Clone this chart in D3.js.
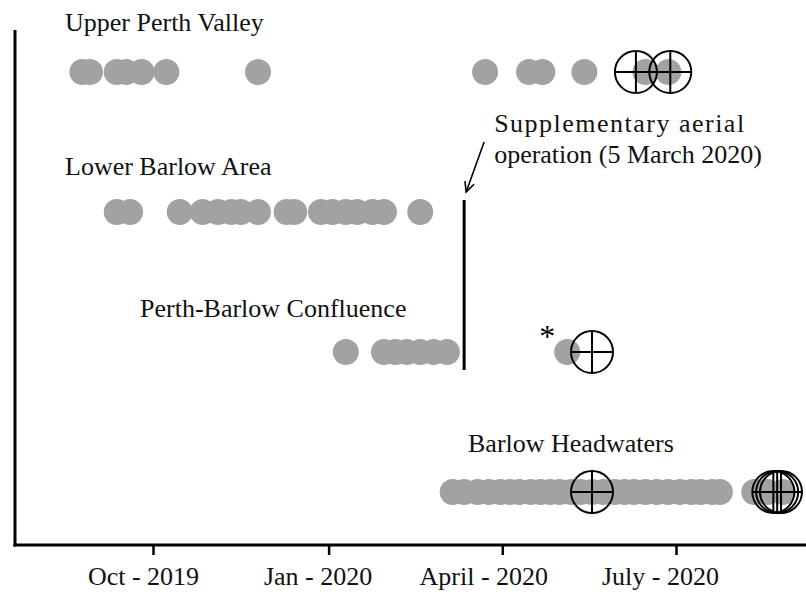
<!DOCTYPE html>
<html><head><meta charset="utf-8">
<script src="https://cdn.jsdelivr.net/npm/d3@7"></script>
<style>html,body{margin:0;padding:0;background:#fff;}svg{display:block;}</style>
</head><body>
<svg id="chart" width="806" height="594"></svg>
<script>
// ---- data ----
const sites = ["Upper Perth Valley", "Lower Barlow Area", "Perth-Barlow Confluence", "Barlow Headwaters"];
const upperPerthDates = ["2019-08-25","2019-08-29","2019-09-12","2019-09-17","2019-09-25","2019-10-08","2019-11-25",
  "2020-03-23","2020-04-15","2020-04-22","2020-05-14","2020-06-15","2020-06-27"];
const upperPerthCross = ["2020-06-10","2020-06-28"];
const lowerBarlowDates = ["2019-09-12","2019-09-19","2019-10-15","2019-10-27","2019-11-04","2019-11-11","2019-11-16","2019-11-25",
  "2019-12-10","2019-12-14","2019-12-28","2020-01-03","2020-01-10","2020-01-16","2020-01-24","2020-01-30","2020-02-18"];
const lowerBarlowCross = [];
const confluenceDates = ["2020-01-10","2020-01-30","2020-02-05","2020-02-11","2020-02-18","2020-02-25","2020-03-03","2020-05-05"];
const confluenceCross = ["2020-05-18"];
const headwatersDates = ["2020-03-06","2020-03-12","2020-03-19","2020-03-25","2020-03-31","2020-04-05","2020-04-10","2020-04-16",
  "2020-04-21","2020-04-26","2020-05-01","2020-05-07","2020-05-12","2020-05-18","2020-05-24","2020-05-30","2020-06-04",
  "2020-06-09","2020-06-15","2020-06-21","2020-06-27","2020-07-03","2020-07-09","2020-07-14","2020-07-20","2020-07-24",
  "2020-08-11","2020-08-18","2020-08-26"];
const headwatersCross = ["2020-05-18","2020-08-21","2020-08-23","2020-08-25"];
const tickDates = ["2019-10-01","2020-01-01","2020-04-01","2020-07-01"];
const tickLabels = ["Oct - 2019","Jan - 2020","April - 2020","July - 2020"];
const operationDate = "2020-03-12";
const operationLabel = ["Supplementary aerial","operation (5 March 2020)"];
const asteriskDate = "2020-05-05";

// ---- build ----
const parse = d3.utcParse("%Y-%m-%d");
const dotSets = [upperPerthDates, lowerBarlowDates, confluenceDates, headwatersDates];
const crossSets = [upperPerthCross, lowerBarlowCross, confluenceCross, headwatersCross];
const labelPos = [{x:65,dy:-41},{x:65,dy:-37},{x:140,dy:-35},{x:468,dy:-40}];
const tickShift = [-10, -11, -19, -16];

const svg = d3.select("#chart");
const font = "'Liberation Serif','Times New Roman',serif";
const FS = 26;
const x = d3.scaleUtc().domain([parse("2019-10-01"), parse("2020-07-01")]).range([153, 676]);
const y = d3.scalePoint().domain(sites).range([72, 492]);
const R = 13, RC = 21;

// dots
sites.forEach((s, i) => {
  svg.append("g").selectAll("circle").data(dotSets[i]).join("circle")
    .attr("cx", d => x(parse(d))).attr("cy", y(s)).attr("r", R)
    .attr("fill", "#a2a2a2");
});
// crosshairs
sites.forEach((s, i) => {
  const g = svg.append("g").selectAll("g").data(crossSets[i]).join("g")
    .attr("transform", d => `translate(${x(parse(d))},${y(s)})`);
  g.append("circle").attr("r", RC).attr("fill", "none").attr("stroke", "#000").attr("stroke-width", 2);
  g.append("line").attr("x1", -RC).attr("x2", RC).attr("stroke", "#000").attr("stroke-width", 2);
  g.append("line").attr("y1", -RC).attr("y2", RC).attr("stroke", "#000").attr("stroke-width", 2);
});
// site labels
svg.append("g").selectAll("text").data(sites).join("text")
  .attr("x", (d, i) => labelPos[i].x).attr("y", (d, i) => y(d) + labelPos[i].dy)
  .attr("font-family", font).attr("font-size", FS).attr("fill", "#111").text(d => d);

// operation line
const ox = x(parse(operationDate));
svg.append("line").attr("x1", ox).attr("x2", ox)
  .attr("y1", y(sites[1]) - 12).attr("y2", y(sites[2]) + 18)
  .attr("stroke", "#000").attr("stroke-width", 3);
// arrow
const ax1 = ox + 20, ay1 = 142, ax2 = ox + 2, ay2 = 192;
svg.append("line").attr("x1", ax1).attr("y1", ay1).attr("x2", ax2).attr("y2", ay2)
  .attr("stroke", "#000").attr("stroke-width", 1.6);
const ang = Math.atan2(ay2 - ay1, ax2 - ax1);
const hl = 11, ha = 0.45;
svg.append("path")
  .attr("d", `M${ax2 - hl*Math.cos(ang-ha)},${ay2 - hl*Math.sin(ang-ha)}L${ax2},${ay2}L${ax2 - hl*Math.cos(ang+ha)},${ay2 - hl*Math.sin(ang+ha)}`)
  .attr("fill", "none").attr("stroke", "#000").attr("stroke-width", 1.6);
svg.append("g").selectAll("text").data(operationLabel).join("text")
  .attr("x", ox + 30).attr("y", (d, i) => 132 + i * 31)
  .attr("font-family", font).attr("font-size", FS).attr("fill", "#111")
  .attr("textLength", (d, i) => i === 0 ? 250 : null)
  .attr("lengthAdjust", "spacing")
  .text(d => d);

// asterisk
svg.append("text").attr("x", x(parse(asteriskDate)) - 20).attr("y", y(sites[2]) - 5)
  .attr("text-anchor", "middle").attr("font-family", font).attr("font-size", 32).text("*");

// axes
const axisY = 545, axisX = 15;
svg.append("line").attr("x1", axisX).attr("x2", axisX).attr("y1", 30).attr("y2", axisY + 1.5)
  .attr("stroke", "#000").attr("stroke-width", 3);
const xAxis = d3.axisBottom(x).tickValues(tickDates.map(parse))
  .tickFormat((d, i) => tickLabels[i]).tickSize(10).tickPadding(12);
const ga = svg.append("g").attr("transform", `translate(0,${axisY})`).call(xAxis);
ga.select(".domain").remove();
ga.selectAll(".tick line").attr("stroke", "#000").attr("stroke-width", 2.5);
ga.selectAll(".tick text").attr("font-family", font).attr("font-size", FS).attr("fill", "#111")
  .attr("dx", (d, i) => tickShift[i]);
svg.append("line").attr("x1", axisX - 1.5).attr("x2", 806).attr("y1", axisY).attr("y2", axisY)
  .attr("stroke", "#000").attr("stroke-width", 3);
</script>
</body></html>
